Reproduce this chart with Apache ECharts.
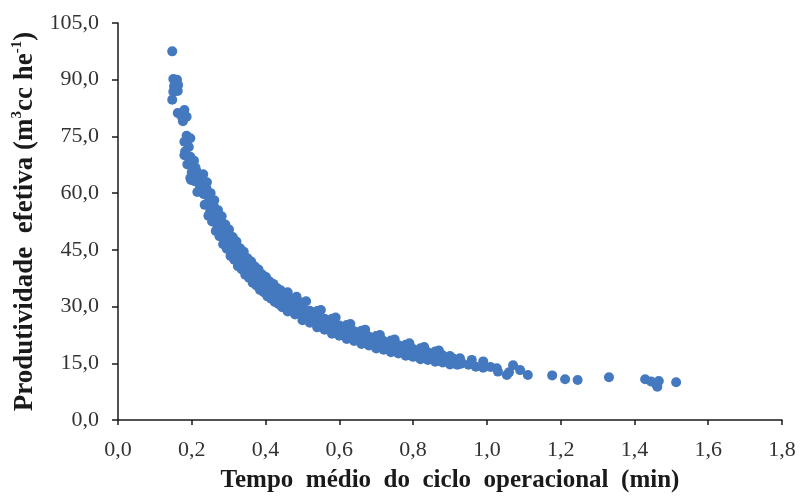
<!DOCTYPE html>
<html>
<head>
<meta charset="utf-8">
<script src="https://cdn.jsdelivr.net/npm/echarts@6/dist/echarts.min.js"></script>
<style>
  html, body { margin: 0; padding: 0; background: #fff; }
  #chart { width: 802px; height: 498px; }
</style>
</head>
<body>
<div id="chart"></div>
<script>
// Tempo médio do ciclo (min) x Produtividade efetiva (m3cc he-1)
const tempoTopo = [0.147, 0.150, 0.160, 0.152, 0.163, 0.150, 0.162, 0.147, 0.162, 0.172, 0.180, 0.186, 0.176,
  0.186, 0.196, 0.180, 0.192, 0.182, 0.180, 0.196, 0.206, 0.188, 0.210, 0.200, 0.196, 0.216, 0.220, 0.206,
  0.226, 0.198, 0.215, 0.232, 0.222, 0.212, 0.228, 0.218];
const prodTopo = [97.5, 90.2, 90.0, 88.3, 88.6, 86.8, 87.0, 84.7, 81.2, 80.4, 82.0, 80.2, 79.0,
  75.2, 74.5, 73.6, 72.2, 71.0, 70.0, 69.6, 68.6, 67.6, 66.8, 65.5, 64.0, 64.6, 62.4, 63.2,
  61.0, 63.5, 60.3, 59.8, 64.0, 66.0, 60.5, 62.8];

const tempoFaixaA = [0.235, 0.245, 0.255, 0.265, 0.275, 0.285, 0.295, 0.305, 0.315, 0.325, 0.335, 0.345, 0.355,
  0.365, 0.375, 0.385, 0.395, 0.405, 0.415, 0.425, 0.435, 0.445,
  0.46, 0.48, 0.50, 0.52, 0.54, 0.56, 0.58, 0.60, 0.62, 0.64, 0.66, 0.68, 0.70, 0.72, 0.74, 0.76, 0.78,
  0.80, 0.82, 0.84, 0.86, 0.88, 0.90, 0.92];
const prodFaixaA = [56.9, 54.0, 52.5, 50.0, 48.6, 46.5, 45.3, 43.4, 42.4, 40.7, 39.9, 38.4, 37.6,
  36.3, 35.6, 34.4, 33.8, 32.7, 32.1, 31.2, 30.7, 29.8,
  28.7, 27.9, 26.4, 25.7, 24.5, 23.9, 22.8, 22.3, 21.4, 20.9, 20.1, 19.7, 18.9, 18.6, 17.9, 17.6, 17.0,
  16.7, 16.1, 15.9, 15.4, 15.2, 14.7, 14.6];

const tempoFaixaB = [0.239, 0.249, 0.259, 0.269, 0.279, 0.289, 0.299, 0.309, 0.319, 0.329, 0.339, 0.349, 0.359,
  0.369, 0.379, 0.389, 0.399, 0.409, 0.419, 0.429, 0.439, 0.449,
  0.47, 0.49, 0.51, 0.53, 0.55, 0.57, 0.59, 0.61, 0.63, 0.65, 0.67, 0.69, 0.71, 0.73, 0.75, 0.77, 0.79,
  0.81, 0.83, 0.85, 0.87, 0.89, 0.91, 0.93];
const prodFaixaB = [59.6, 56.8, 55.0, 52.6, 51.1, 48.9, 47.6, 45.8, 44.7, 43.0, 42.1, 40.5, 39.7,
  38.4, 37.6, 36.4, 35.7, 34.6, 34.0, 33.0, 32.4, 31.5,
  30.0, 29.2, 27.7, 26.9, 25.6, 25.0, 24.0, 23.4, 22.4, 21.9, 21.1, 20.7, 19.9, 19.6, 18.8, 18.5, 17.9,
  17.6, 17.0, 16.8, 16.2, 16.1, 15.5, 15.4];

const tempoFaixaC = [0.231, 0.241, 0.251, 0.261, 0.271, 0.281, 0.291, 0.301, 0.311, 0.321, 0.331, 0.341, 0.351,
  0.361, 0.371, 0.381, 0.391, 0.401, 0.411, 0.421, 0.431, 0.441,
  0.46, 0.48, 0.50, 0.52, 0.54, 0.56, 0.58, 0.60, 0.62, 0.64, 0.66, 0.68, 0.70, 0.72, 0.74, 0.76, 0.78,
  0.80, 0.82, 0.84, 0.86, 0.88, 0.90];
const prodFaixaC = [65.0, 62.9, 60.0, 58.1, 55.5, 53.9, 51.7, 50.4, 48.4, 47.2, 45.4, 44.5, 42.8,
  41.9, 40.6, 39.8, 38.5, 37.8, 36.6, 36.0, 34.9, 34.3,
  33.0, 31.3, 30.4, 28.9, 28.1, 26.8, 26.1, 25.0, 24.5, 23.5, 23.0, 22.1, 21.7, 20.9, 20.5, 19.8, 19.5,
  18.8, 18.5, 17.9, 17.7, 17.1, 16.9];

const tempoFaixaD = [0.484, 0.51, 0.55, 0.59, 0.63, 0.67, 0.71, 0.75, 0.79, 0.83, 0.87];
const prodFaixaD = [32.6, 31.4, 29.1, 27.1, 25.4, 23.9, 22.5, 21.3, 20.3, 19.3, 18.4];

const tempoFaixaE = [0.240, 0.250, 0.260, 0.270, 0.280, 0.290, 0.300, 0.310, 0.320, 0.330, 0.340, 0.350, 0.360,
  0.370, 0.380, 0.390, 0.400, 0.410, 0.420, 0.430, 0.440,
  0.45, 0.47, 0.49, 0.51, 0.53, 0.55, 0.57, 0.59, 0.61, 0.63, 0.65, 0.67, 0.69, 0.71, 0.73, 0.75, 0.77,
  0.79, 0.81, 0.83, 0.85, 0.87, 0.89, 0.91, 0.93];
const prodFaixaE = [57.1, 55.2, 52.7, 51.1, 48.9, 47.6, 45.6, 44.5, 42.8, 41.9, 40.2, 39.4, 38.0,
  37.3, 36.1, 35.4, 34.3, 33.6, 32.6, 32.1, 31.2,
  30.7, 29.2, 28.2, 26.9, 26.0, 24.9, 24.2, 23.2, 22.6, 21.7, 21.3, 20.4, 20.0, 19.3, 18.9, 18.2, 18.0,
  17.3, 17.1, 16.5, 16.3, 15.7, 15.5, 15.0, 14.9];

const tempoFaixaF = [0.230, 0.240, 0.250, 0.260, 0.270, 0.280, 0.290, 0.300, 0.310, 0.320, 0.330, 0.340, 0.350,
  0.360, 0.370, 0.380, 0.390, 0.400, 0.410, 0.420, 0.430, 0.440,
  0.45, 0.47, 0.49, 0.51, 0.53, 0.55, 0.57, 0.59, 0.61, 0.63, 0.65, 0.67, 0.69, 0.71, 0.73, 0.75, 0.77,
  0.79, 0.81, 0.83, 0.85, 0.87, 0.89, 0.91];
const prodFaixaF = [63.5, 61.2, 58.4, 56.5, 54.1, 52.5, 50.3, 49.0, 47.1, 46.0, 44.2, 43.3, 41.7,
  40.9, 39.5, 38.7, 37.5, 36.8, 35.6, 35.0, 34.0, 33.4,
  32.5, 31.3, 29.8, 28.8, 27.5, 26.7, 25.6, 24.9, 23.9, 23.4, 22.4, 22.0, 21.1, 20.7, 20.0, 19.6, 18.9,
  18.6, 18.0, 17.8, 17.1, 16.9, 16.4, 16.2];

const tempoFaixaG = [0.46, 0.50, 0.54, 0.58, 0.62, 0.66, 0.70, 0.74, 0.78, 0.82, 0.86];
const prodFaixaG = [33.8, 31.1, 28.8, 26.8, 25.1, 23.6, 22.2, 21.0, 19.9, 19.0, 18.1];

const tempoCauda = [0.927, 0.959, 0.990, 0.950, 0.970, 0.990, 1.010, 1.027, 1.030, 1.054, 1.060, 1.071, 1.090,
  1.111, 1.177, 1.212, 1.246, 1.331, 1.429, 1.445, 1.458, 1.462, 1.466, 1.513];
const prodCauda = [16.3, 15.9, 15.5, 14.6, 14.1, 13.8, 14.0, 13.7, 12.8, 11.9, 12.6, 14.5, 13.2,
  11.9, 11.8, 10.8, 10.6, 11.3, 10.8, 10.2, 9.6, 8.8, 10.3, 10.0];

const xMax = 1.8, xStep = 0.2;
const yMax = 105, yStep = 15;

function pairs(xs, ys) {
  return xs.map((x, i) => [x, ys[i]]);
}

const pontos = [].concat(
  pairs(tempoTopo, prodTopo),
  pairs(tempoFaixaA, prodFaixaA),
  pairs(tempoFaixaB, prodFaixaB),
  pairs(tempoFaixaC, prodFaixaC),
  pairs(tempoFaixaD, prodFaixaD),
  pairs(tempoFaixaE, prodFaixaE),
  pairs(tempoFaixaF, prodFaixaF),
  pairs(tempoFaixaG, prodFaixaG),
  pairs(tempoCauda, prodCauda)
);

const serif = '"Liberation Serif", "Times New Roman", serif';
const ink = '#1a1a1a';
const comma = v => v.toFixed(1).replace('.', ',');

const chart = echarts.init(document.getElementById('chart'), null, { renderer: 'canvas' });
chart.setOption({
  backgroundColor: '#fff',
  animation: false,
  grid: { left: 118, right: 20, top: 23, bottom: 76 },
  xAxis: {
    type: 'value',
    min: 0,
    max: xMax,
    interval: xStep,
    name: 'Tempo  médio  do  ciclo  operacional  (min)',
    nameLocation: 'middle',
    nameGap: 48,
    nameTextStyle: { fontFamily: serif, fontSize: 25, fontWeight: 'bold', color: ink },
    axisLine: { lineStyle: { color: ink, width: 1.5 } },
    axisTick: { inside: false, length: 5, lineStyle: { color: ink, width: 1.5 } },
    axisLabel: { formatter: comma, fontFamily: serif, fontSize: 22, color: '#333', margin: 19 },
    splitLine: { show: false }
  },
  yAxis: {
    type: 'value',
    min: 0,
    max: yMax,
    interval: yStep,
    name: '{t|Produtividade  efetiva (m}{s|3}{t|cc he}{s|-1}{t|)}',
    nameLocation: 'middle',
    nameRotate: 90,
    nameGap: 75,
    nameTextStyle: {
      rich: {
        t: { fontFamily: serif, fontSize: 27, fontWeight: 'bold', color: ink, lineHeight: 31 },
        s: { fontFamily: serif, fontSize: 15, fontWeight: 'bold', color: ink, verticalAlign: 'top', lineHeight: 16 }
      }
    },
    axisLine: { show: true, lineStyle: { color: ink, width: 1.5 } },
    axisTick: { show: true, inside: false, length: 6, lineStyle: { color: ink, width: 1.5 } },
    axisLabel: { formatter: comma, fontFamily: serif, fontSize: 22, color: '#333', margin: 19 },
    splitLine: { show: false }
  },
  series: [{
    type: 'scatter',
    data: pontos,
    symbol: 'circle',
    symbolSize: 10,
    itemStyle: { color: '#4479bf', opacity: 1 }
  }]
});
</script>
</body>
</html>
